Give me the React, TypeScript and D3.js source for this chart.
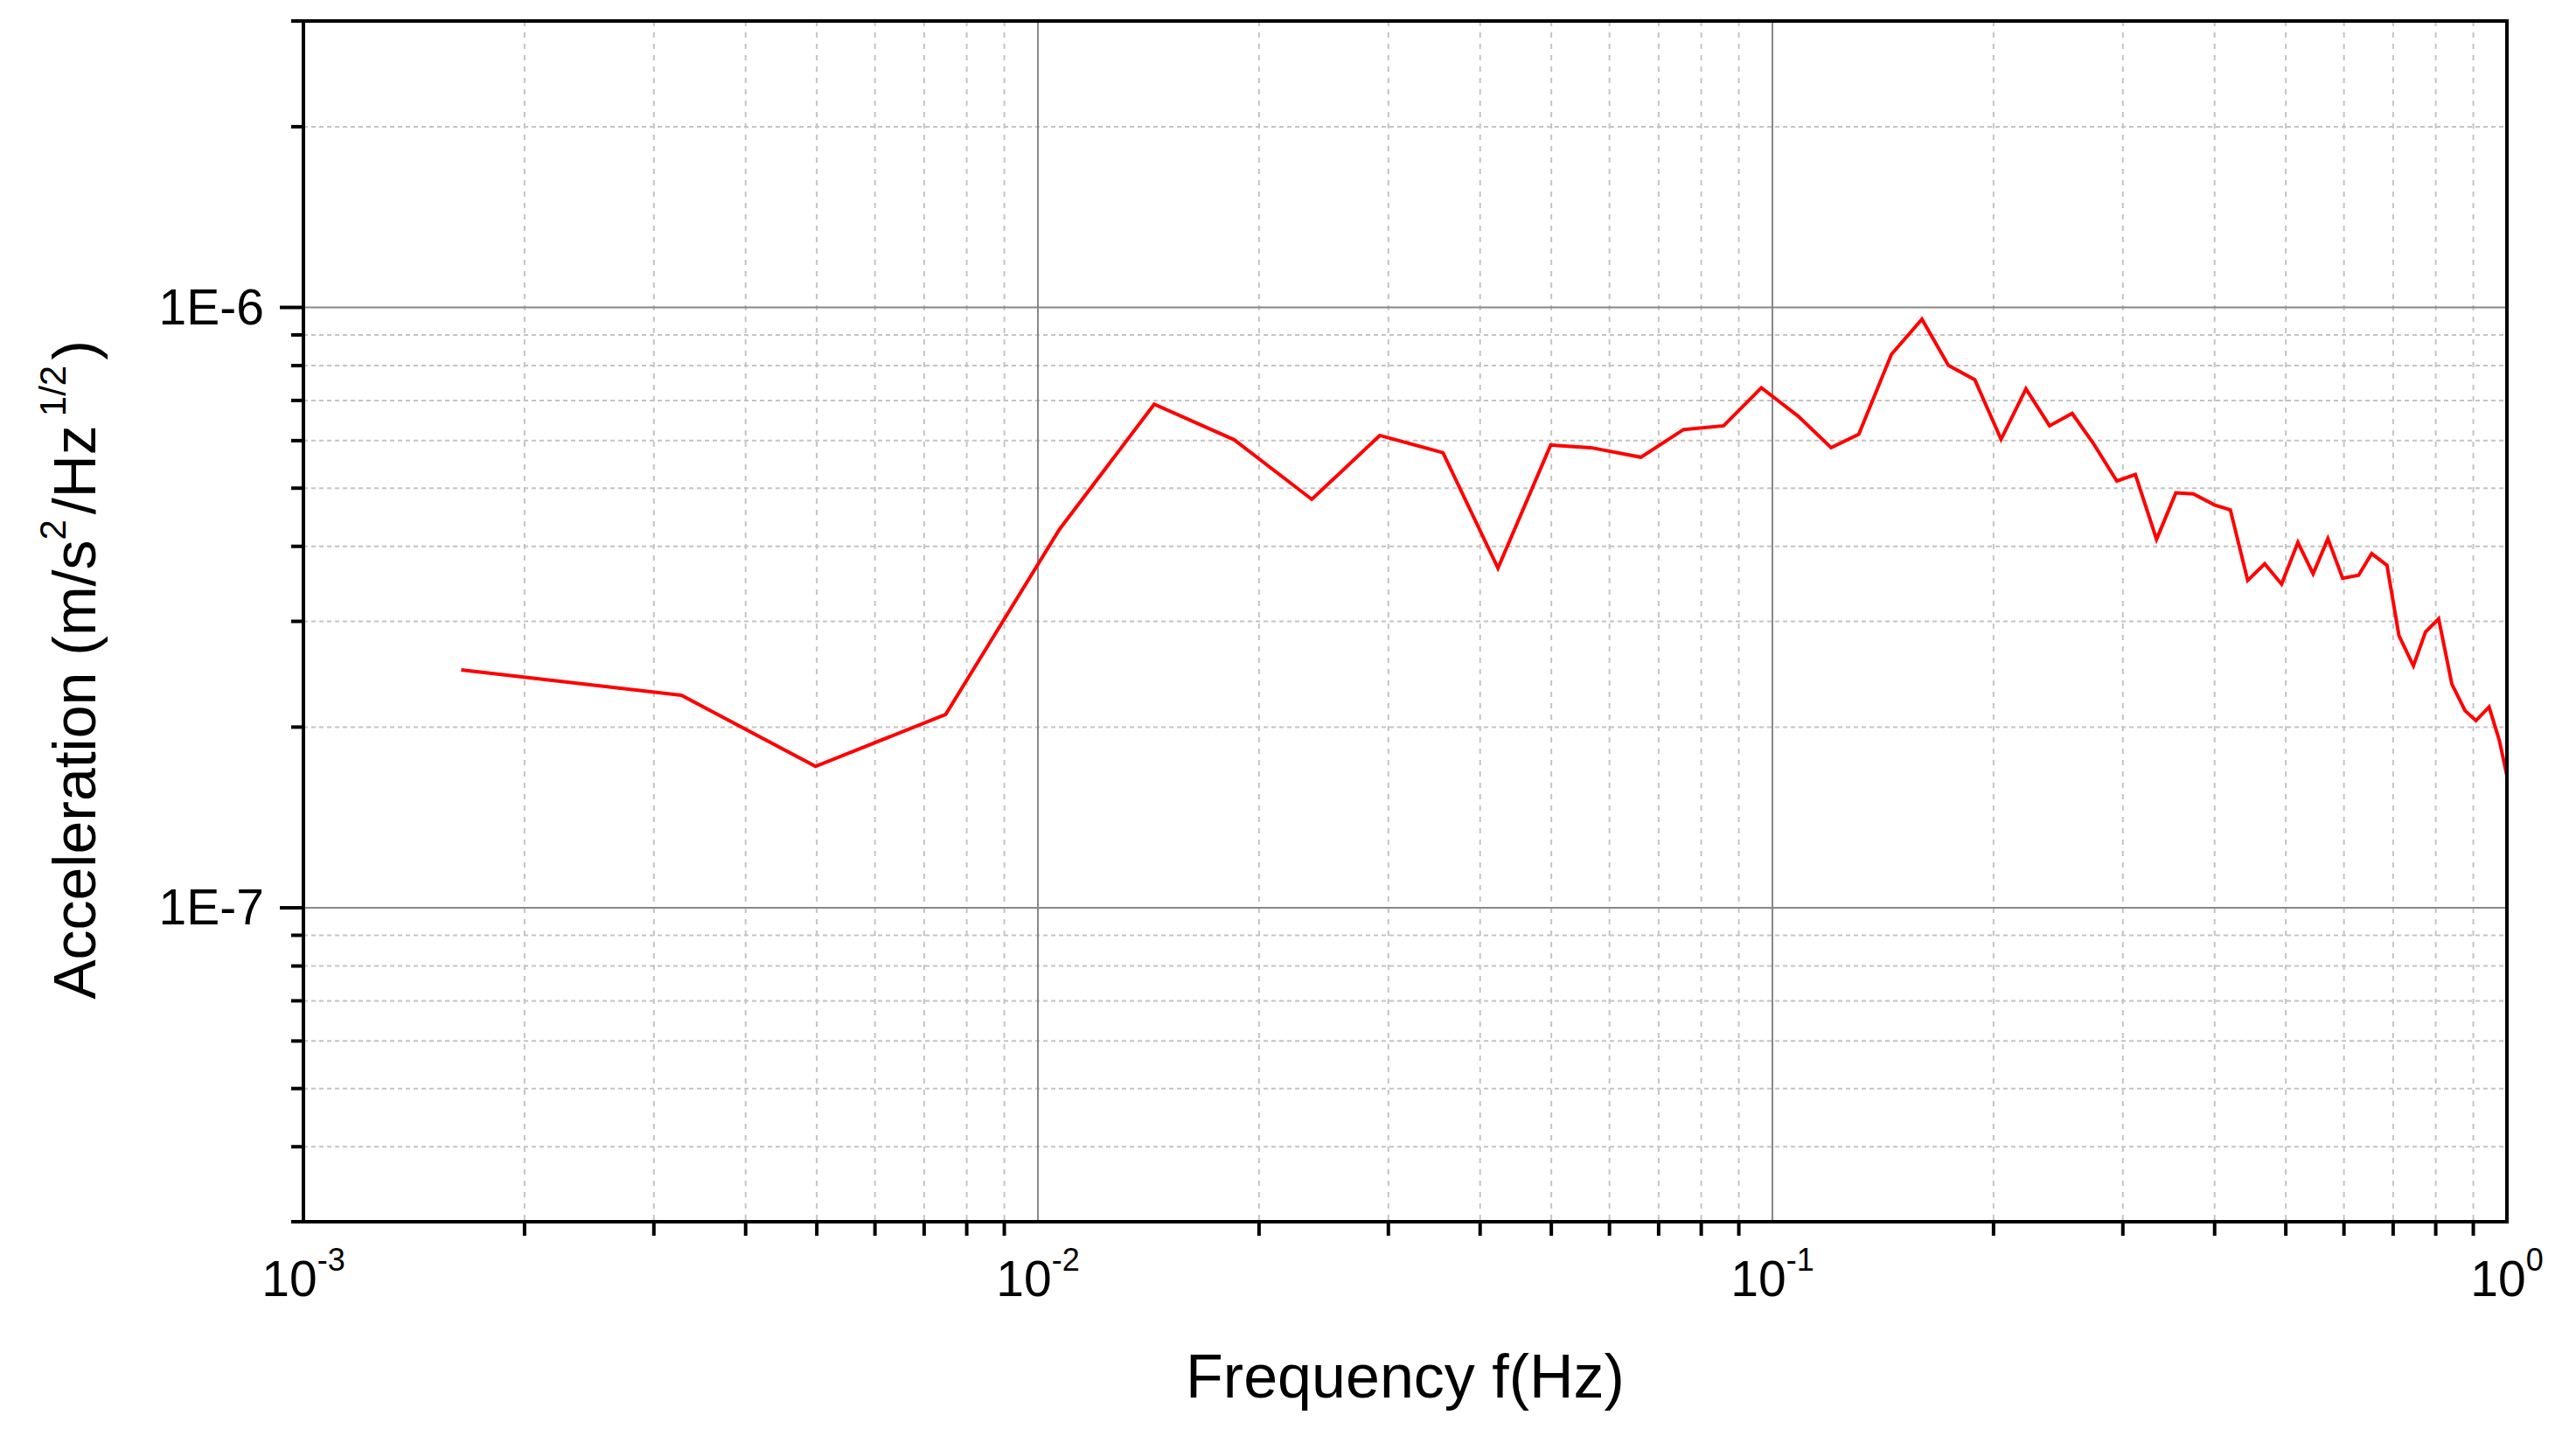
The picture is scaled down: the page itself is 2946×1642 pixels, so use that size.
import React from "react";
import * as d3 from "d3";

const freqHz = [0.00164, 0.00327, 0.00498, 0.00749, 0.0107, 0.0144, 0.0185, 0.0236, 0.0292, 0.0356, 0.0423, 0.0499, 0.0566, 0.0662, 0.0757, 0.0858, 0.0966, 0.1084, 0.1202, 0.1311, 0.1452, 0.1598, 0.1736, 0.1886, 0.2048, 0.2214, 0.2384, 0.2559, 0.2734, 0.2944, 0.312, 0.3334, 0.3542, 0.3742, 0.3997, 0.4202, 0.4437, 0.468, 0.4934, 0.5193, 0.5447, 0.5705, 0.5975, 0.6281, 0.6545, 0.6866, 0.7129, 0.7459, 0.7748, 0.8073, 0.8414, 0.877, 0.9073, 0.9456, 0.9766, 1.0];
const accelE7 = [2.49, 2.26, 1.72, 2.1, 4.27, 6.9, 6.02, 4.79, 6.12, 5.73, 3.68, 5.9, 5.84, 5.63, 6.26, 6.35, 7.35, 6.59, 5.84, 6.15, 8.35, 9.56, 8.01, 7.58, 6.03, 7.32, 6.35, 6.66, 5.94, 5.14, 5.27, 4.11, 4.91, 4.89, 4.69, 4.6, 3.51, 3.74, 3.46, 4.06, 3.6, 4.12, 3.54, 3.58, 3.89, 3.72, 2.84, 2.53, 2.88, 3.03, 2.36, 2.13, 2.05, 2.16, 1.9, 1.66];

const xDecades = [-3, -2, -1, 0];
const xTickLabels = ["-3", "-2", "-1", "0"];
const yMajor = [1e-7, 1e-6];
const yMajorLabels = ["1E-7", "1E-6"];
const xDomain = [1e-3, 1];
const yDomain = [3e-8, 3e-6];

const W = 2946;
const H = 1642;
const L = 347, R = 2867, T = 24, B = 1397;
const FONT = "'Liberation Sans', Arial, sans-serif";

export default function App() {
  const x = d3.scaleLog().domain(xDomain).range([L, R]);
  const y = d3.scaleLog().domain(yDomain).range([B, T]);

  const xMinor: number[] = [];
  for (let e = -3; e <= -1; e++) for (let k = 2; k <= 9; k++) xMinor.push(k * Math.pow(10, e));
  const xMajorGrid = [1e-2, 1e-1];

  const yMinor: number[] = [];
  for (let e = -8; e <= -6; e++) for (let k = 2; k <= 9; k++) {
    const v = k * Math.pow(10, e);
    if (v > yDomain[0] * 1.001 && v < yDomain[1] * 0.999) yMinor.push(v);
  }
  const yMinorTicks = [...yMinor, yDomain[0], yDomain[1]];

  const data = freqHz.map((f, i) => ({ f, a: accelE7[i] * 1e-7 }));
  const line = d3.line<{ f: number; a: number }>().x(d => x(d.f)).y(d => y(d.a));

  return (
    <svg width={W} height={H} style={{ position: "absolute", left: 0, top: 0, display: "block", background: "#fff" }}>
      <defs>
        <clipPath id="plotclip">
          <rect x={L} y={T} width={R - L} height={B - T} />
        </clipPath>
      </defs>
      <rect x={0} y={0} width={W} height={H} fill="#fff" />
      {/* minor grid */}
      {xMinor.map((v, i) => (
        <line key={"gx" + i} x1={x(v)} x2={x(v)} y1={T} y2={B} stroke="#c4c4c4" strokeWidth={2} strokeDasharray="6,7" />
      ))}
      {yMinor.map((v, i) => (
        <line key={"gy" + i} x1={L} x2={R} y1={y(v)} y2={y(v)} stroke="#c4c4c4" strokeWidth={2} strokeDasharray="5,4" />
      ))}
      {/* major grid */}
      {xMajorGrid.map((v, i) => (
        <line key={"Gx" + i} x1={x(v)} x2={x(v)} y1={T} y2={B} stroke="#888" strokeWidth={2} />
      ))}
      {yMajor.map((v, i) => (
        <line key={"Gy" + i} x1={L} x2={R} y1={y(v)} y2={y(v)} stroke="#888" strokeWidth={2} />
      ))}
      {/* data */}
      <path d={line(data) || ""} fill="none" stroke="#ff0000" strokeWidth={4} strokeLinejoin="miter" clipPath="url(#plotclip)" />
      {/* frame */}
      <rect x={L} y={T} width={R - L} height={B - T} fill="none" stroke="#000" strokeWidth={4} />
      {/* y ticks */}
      {yMinorTicks.map((v, i) => (
        <line key={"ty" + i} x1={L - 14} x2={L} y1={y(v)} y2={y(v)} stroke="#000" strokeWidth={4} />
      ))}
      {yMajor.map((v, i) => (
        <line key={"tY" + i} x1={L - 27} x2={L} y1={y(v)} y2={y(v)} stroke="#000" strokeWidth={4} />
      ))}
      {yMajor.map((v, i) => (
        <text key={"ly" + i} x={L - 45} y={y(v) + 19} textAnchor="end" fontFamily={FONT} fontSize={57} fill="#000">
          {yMajorLabels[i]}
        </text>
      ))}
      {/* x ticks */}
      {xMinor.map((v, i) => (
        <line key={"tx" + i} x1={x(v)} x2={x(v)} y1={B} y2={B + 16} stroke="#000" strokeWidth={4} />
      ))}
      {xDecades.map((e, i) => (
        <text key={"lx" + i} x={x(Math.pow(10, e))} y={1482} textAnchor="middle" fontFamily={FONT} fontSize={57} fill="#000">
          10
          <tspan dy={-29} fontSize={36}>{xTickLabels[i]}</tspan>
        </text>
      ))}
      {/* axis titles */}
      <text x={1607} y={1598} textAnchor="middle" fontFamily={FONT} fontSize={70} fill="#000">
        Frequency f(Hz)
      </text>
      <text transform="translate(109,766) rotate(-90)" textAnchor="middle" fontFamily={FONT} fontSize={68} fill="#000">
        Acceleration (m/s
        <tspan dy={-34} fontSize={42}>2</tspan>
        <tspan dy={34} dx={6}>/Hz</tspan>
        <tspan dy={-34} dx={10} fontSize={42}>1/2</tspan>
        <tspan dy={34} dx={6}>)</tspan>
      </text>
    </svg>
  );
}
